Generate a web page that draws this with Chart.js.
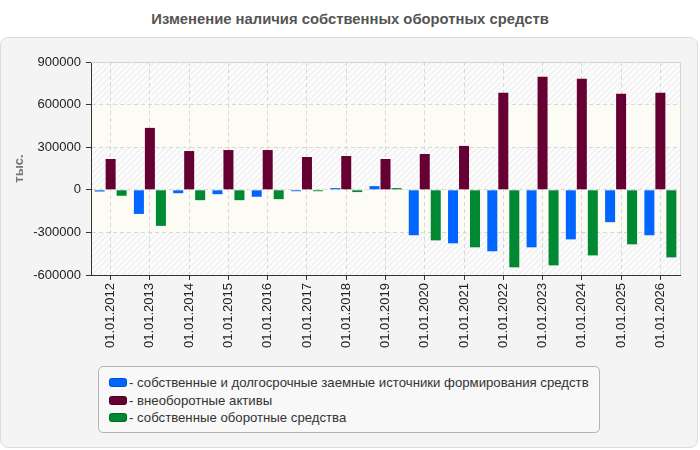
<!DOCTYPE html>
<html>
<head>
<meta charset="utf-8">
<script src="https://cdn.jsdelivr.net/npm/chart.js@4.4.0/dist/chart.umd.min.js"></script>
<style>
  body { margin:0; background:#fff; font-family:"Liberation Sans", Arial, sans-serif; }
  #title { position:absolute; left:0; top:11px; width:700px; text-align:center; font-weight:bold; font-size:14.8px; color:#555; }
  #box { position:absolute; left:0; top:37px; width:696px; height:409px; background:#f4f4f4; border:1px solid #dcdcdc; border-radius:8px; }
  #wrap { position:absolute; left:0; top:37px; width:700px; height:330px; }
  #legend { position:absolute; left:98px; top:366px; width:502px; height:67px; border:1px solid #b4b4b4; border-radius:5px; background:#f8f8f8; box-sizing:border-box; padding-top:7px; }
  .item { height:17.5px; line-height:17.5px; font-size:13.2px; color:#333; padding-left:10px; white-space:nowrap; }
  .sw { display:inline-block; width:16px; height:7px; border-radius:3px; margin-right:2px; vertical-align:0px; border:1px solid rgba(0,0,0,0.2); }
</style>
</head>
<body>
<div id="title">Изменение наличия собственных оборотных средств</div>
<div id="box"></div>
<div id="wrap"><canvas id="myChart" width="700" height="330"></canvas></div>
<div id="legend"></div>
<script>
var labels = ["01.01.2012","01.01.2013","01.01.2014","01.01.2015","01.01.2016","01.01.2017","01.01.2018","01.01.2019","01.01.2020","01.01.2021","01.01.2022","01.01.2023","01.01.2024","01.01.2025","01.01.2026"];
var sobstvDolg = [-12000,-170000,-24000,-31000,-49000,-10000,12000,26000,-320000,-377000,-433000,-405000,-349000,-228000,-320000];
var vneobor = [217000,436000,273000,280000,280000,231000,238000,217000,252000,309000,683000,796000,782000,676000,683000];
var sobstvObor = [-42000,-254000,-73000,-73000,-66000,-10000,-16000,12000,-356000,-405000,-546000,-532000,-462000,-384000,-476000];
var seriesNames = ["- собственные и долгосрочные заемные источники формирования средств","- внеоборотные активы","- собственные оборотные средства"];
var seriesColors = ["#0066ff","#660033","#008833"];

// hatch pattern for the striped bands
var pc = document.createElement('canvas');
pc.width = 6; pc.height = 6;
var px = pc.getContext('2d');
px.fillStyle = '#fbfbfb'; px.fillRect(0,0,6,6);
px.strokeStyle = '#e8e8e8'; px.lineWidth = 1;
px.beginPath(); px.moveTo(0,6); px.lineTo(6,0); px.moveTo(-1,1); px.lineTo(1,-1); px.moveTo(5,7); px.lineTo(7,5); px.stroke();

var bandsPlugin = {
  id: 'bands',
  beforeDraw: function(chart) {
    var ctx = chart.ctx, a = chart.chartArea, y = chart.scales.y;
    var pat = ctx.createPattern(pc, 'repeat');
    var ticks = y.ticks;
    for (var i = 0; i < ticks.length - 1; i++) {
      var y1 = y.getPixelForValue(ticks[i].value), y2 = y.getPixelForValue(ticks[i+1].value);
      // bands counted from the top
      var fromTop = ticks.length - 2 - i;
      ctx.fillStyle = (fromTop % 2 === 0) ? pat : '#fcfcf5';
      ctx.fillRect(a.left, Math.min(y1,y2), a.right - a.left, Math.abs(y2 - y1));
    }
  },
  afterDraw: function(chart) {
    var ctx = chart.ctx, a = chart.chartArea;
    ctx.save();
    ctx.strokeStyle = '#d4d4d4'; ctx.lineWidth = 1;
    ctx.beginPath();
    ctx.moveTo(a.left, a.top + 0.5); ctx.lineTo(a.right + 0.5, a.top + 0.5); ctx.lineTo(a.right + 0.5, a.bottom);
    ctx.stroke();
    ctx.restore();
  }
};

var ctx = document.getElementById('myChart').getContext('2d');
var chart = new Chart(ctx, {
  type: 'bar',
  data: {
    labels: labels,
    datasets: [
      { label: seriesNames[0], data: sobstvDolg, backgroundColor: seriesColors[0] },
      { label: seriesNames[1], data: vneobor, backgroundColor: seriesColors[1] },
      { label: seriesNames[2], data: sobstvObor, backgroundColor: seriesColors[2] }
    ]
  },
  options: {
    responsive: false,
    animation: false,
    layout: { padding: { top: 25, right: 20, left: 0, bottom: 0 } },
    datasets: { bar: { categoryPercentage: 0.84, barPercentage: 0.91 } },
    plugins: { legend: { display: false }, tooltip: { enabled: false } },
    scales: {
      x: {
        grid: { offset: false, color: '#d8d8d8', tickColor: '#333', tickLength: 5 },
        border: { color: '#333', dash: [4,3] },
        ticks: { minRotation: 90, maxRotation: 90, color: '#222', font: { size: 13, family: 'Liberation Sans, Arial' }, padding: 3 },
        afterFit: function(s) { s.height = 92; }
      },
      y: {
        min: -600000, max: 900000,
        grid: { color: '#d8d8d8', tickColor: '#333', tickLength: 5 },
        border: { color: '#333', dash: [4,3] },
        ticks: { stepSize: 300000, color: '#222', font: { size: 13, family: 'Liberation Sans, Arial' }, padding: 5,
          callback: function(v) { return String(v); } },
        title: { display: true, text: 'тыс.', color: '#777', font: { size: 13, weight: 'bold', family: 'Liberation Sans, Arial' }, padding: { top: 12, bottom: 0 } },
        afterFit: function(s) { s.width = 91; }
      }
    }
  },
  plugins: [bandsPlugin]
});

// legend built from the chart datasets
var lg = document.getElementById('legend');
chart.data.datasets.forEach(function(ds) {
  var d = document.createElement('div');
  d.className = 'item';
  d.innerHTML = '<span class="sw" style="background:' + ds.backgroundColor + '"></span>' + ds.label;
  lg.appendChild(d);
});
</script>
</body>
</html>
